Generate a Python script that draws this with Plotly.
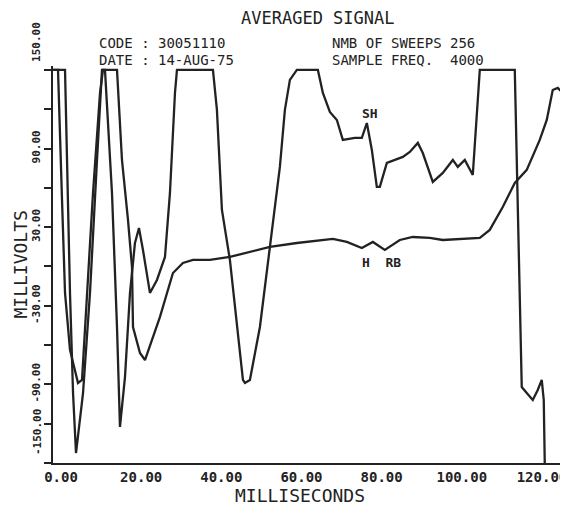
import plotly.graph_objects as go

# ---- data ----
# SH trace
sh_t = [-2.0, 1.0, 1.5, 2.24, 3.0, 3.74, 5.49, 7.23, 8.98, 10.22, 10.97, 12.72, 13.97, 14.71,
        15.96, 17.21, 18.45, 19.45, 20.45, 22.19, 23.94, 25.94, 27.18, 28.43, 28.93, 37.91,
        38.90, 40.15, 42.14, 43.89, 45.39, 45.89, 47.13, 49.63, 52.12, 54.61, 55.86, 57.11,
        58.85, 64.09, 65.34, 67.08, 68.83, 70.32, 73.32, 75.06, 76.31, 77.56, 78.80, 79.55,
        81.30, 83.29, 85.29, 87.03, 89.03, 90.27, 92.77, 95.26, 97.76, 99.00, 100.75, 102.74,
        104.49, 113.22, 114.96, 116.21, 117.71, 118.95, 119.95, 120.45, 120.70]
sh_v = [150, 150, 81.3, -20.2, -96.6, -142.4, -96.6, -20.2, 81.3, 150, 150, 56.1, -46.2, -122.5,
        -84.4, -20.2, 17.9, 29.4, 12.6, -20.2, -10.3, 7.3, 56.1, 132.4, 150, 150,
        119.5, 43.1, 5.0, -46.2, -86.6, -88.9, -86.6, -46.2, 14.9, 76.0, 119.5, 142.4,
        150, 150, 132.4, 117.9, 111.8, 96.6, 98.1, 98.1, 109.5, 88.9, 60.7, 60.7,
        79.0, 81.3, 83.6, 87.4, 94.3, 86.6, 64.5, 71.4, 81.3, 76.0, 81.3, 69.8,
        150, 150, -92.0, -96.6, -101.9, -94.3, -86.6, -101.9, -150]

# H RB trace
hrb_t = [-2.0, -0.75, 0.25, 1.0, 2.24, 4.24, 5.24, 6.48, 7.98, 9.73, 10.47, 13.97, 15.21, 16.71,
         17.71, 17.96, 19.70, 20.95, 24.69, 27.93, 30.42, 32.92, 37.16, 42.14, 47.13, 52.12,
         58.85, 67.83, 71.32, 75.06, 77.81, 80.80, 84.54, 87.78, 92.02, 95.26, 104.49, 106.98,
         110.22, 113.22, 116.21, 119.45, 121.20, 122.69, 123.94, 124.94]
hrb_v = [150, 150, 50.8, -20.2, -63.7, -88.9, -86.6, -20.2, 56.1, 132.4, 150, 150, 81.3, 35.5,
         -0.4, -46.2, -66.0, -71.4, -38.5, -5.0, 2.7, 5.0, 5.0, 7.3, 11.1, 14.9,
         17.9, 21.0, 18.7, 14.1, 18.7, 12.6, 20.2, 22.5, 21.8, 20.2, 21.8, 27.9,
         45.4, 63.7, 73.7, 96.6, 111.8, 134.7, 136.3, 133.2]

x_tick_vals = [0, 20, 40, 60, 80, 100, 120]
x_tick_text = ["0.00", "20.00", "40.00", "60.00", "80.00", "100.00", "120.00"]
y_tick_vals = [150, 120, 90, 60, 30, 0, -30, -60, -90, -120, -150]
y_tick_text = ["", "", "90.00", "", "30.00", "", "-30.00", "", "-90.00", "", ""]
y_end_labels = [("150.00", 150), ("-150.00", -150)]

title_text = "AVERAGED SIGNAL"
header_left = ["CODE : 30051110", "DATE : 14-AUG-75"]
header_right = ["NMB OF SWEEPS 256", "SAMPLE FREQ.  4000"]
x_title = "MILLISECONDS"
y_title = "MILLIVOLTS"
label_sh = ("SH", 77.1, 117.0)
label_hrb = ("H  RB", 80.0, 2.7)

INK = "#222222"
MONO = "DejaVu Sans Mono"

fig = go.Figure()
fig.add_trace(go.Scatter(x=sh_t, y=sh_v, mode="lines", name="SH",
                         line=dict(color=INK, width=2.3), showlegend=False))
fig.add_trace(go.Scatter(x=hrb_t, y=hrb_v, mode="lines", name="H RB",
                         line=dict(color=INK, width=2.3), showlegend=False))

ann = []
ann.append(dict(text=title_text, xref="paper", yref="paper", x=0.515, y=1.121,
                xanchor="center", yanchor="middle",
                showarrow=False, font=dict(family=MONO, size=17, color=INK)))
for i, txt in enumerate(header_left):
    ann.append(dict(text=txt, xref="paper", yref="paper", x=0.085, y=1.058 - i * 0.043,
                    xanchor="left", yanchor="middle", showarrow=False,
                    font=dict(family=MONO, size=14, color=INK)))
for i, txt in enumerate(header_right):
    ann.append(dict(text=txt, xref="paper", yref="paper", x=0.538, y=1.058 - i * 0.043,
                    xanchor="left", yanchor="middle", showarrow=False,
                    font=dict(family=MONO, size=14, color=INK)))
ann.append(dict(text=x_title, xref="paper", yref="paper", x=0.48, y=-0.082,
                xanchor="center", yanchor="middle",
                showarrow=False, font=dict(family=MONO, size=18, color=INK)))
ann.append(dict(text=y_title, xref="paper", yref="paper", x=-0.064, y=0.5, textangle=-90,
                xanchor="center", yanchor="middle",
                showarrow=False, font=dict(family=MONO, size=18, color=INK)))
for lab in (label_sh, label_hrb):
    ann.append(dict(text="<b>%s</b>" % lab[0], x=lab[1], y=lab[2], xref="x", yref="y",
                    xanchor="center", yanchor="middle",
                    showarrow=False, font=dict(family=MONO, size=13, color=INK)))
for txt, val in y_end_labels:
    ann.append(dict(text="<b>%s</b>" % txt, x=-0.031, y=val, xref="paper", yref="y",
                    xanchor="center", yanchor="bottom", textangle=-90, yshift=6,
                    showarrow=False, font=dict(family=MONO, size=11, color=INK)))

fig.update_layout(
    width=560, height=502,
    margin=dict(l=45, r=0, t=58, b=47, autoexpand=False),
    paper_bgcolor="white", plot_bgcolor="white",
    annotations=ann,
    xaxis=dict(range=[-2, 126.5], showgrid=False, zeroline=False, showline=True,
               automargin=False,
               linecolor=INK, linewidth=2, ticks="", tickvals=x_tick_vals,
               ticktext=x_tick_text,
               tickfont=dict(family=MONO, size=14, color=INK, weight="bold")),
    yaxis=dict(range=[-150, 153], showgrid=False, zeroline=False, showline=True,
               automargin=False,
               linecolor=INK, linewidth=2, ticks="outside", ticklen=7, tickwidth=2,
               tickcolor=INK, tickvals=y_tick_vals, ticktext=y_tick_text, tickangle=-90,
               tickfont=dict(family=MONO, size=11, color=INK, weight="bold")),
)

fig.write_html("out.html")
